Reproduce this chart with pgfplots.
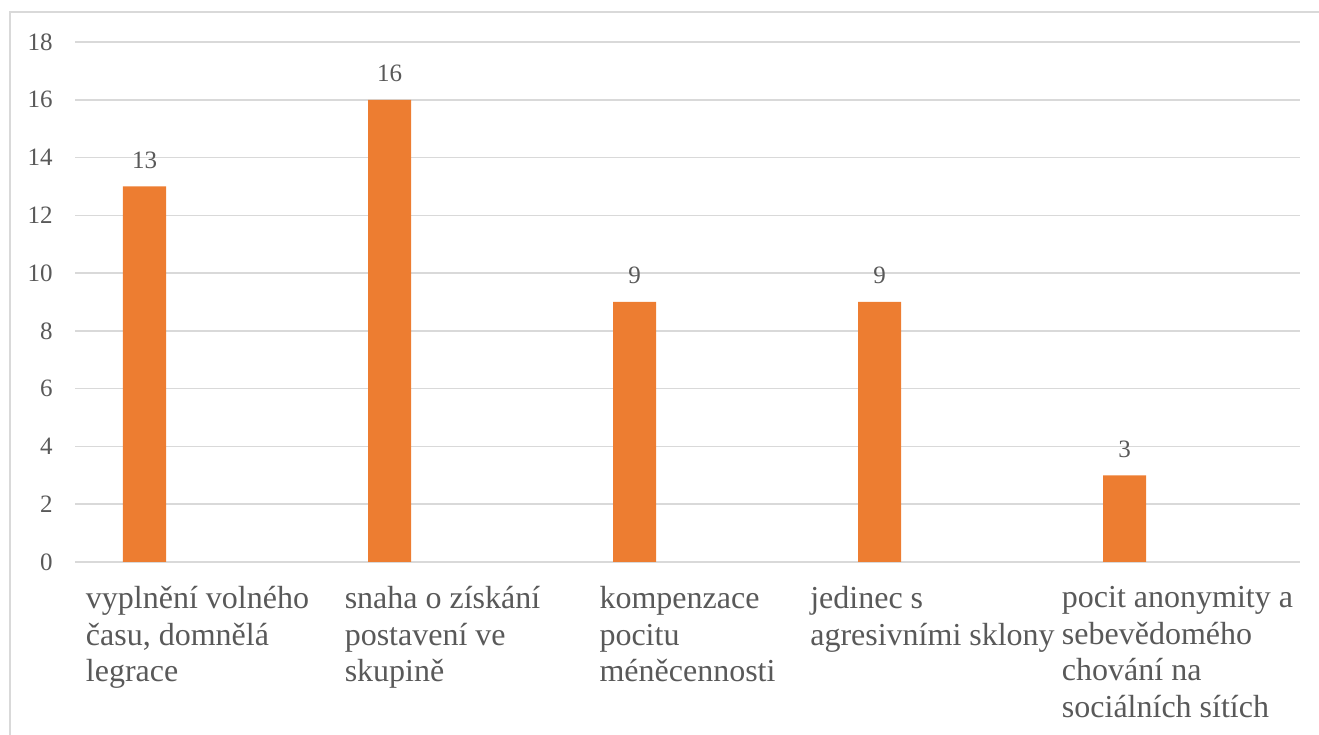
\documentclass[border=0pt]{standalone}
\usepackage{fontspec}
\setmainfont{Liberation Serif}
\newfontfamily\chartfont{Liberation Serif}
\usepackage{pgfplots}
\pgfplotsset{compat=1.18}

\definecolor{barorange}{HTML}{ED7D31}
\definecolor{gridgray}{HTML}{D9D9D9}
\definecolor{textgray}{HTML}{595959}

\begin{document}
\begin{tikzpicture}
% canvas: 1 px of the reference = 0.5bp
\useasboundingbox (0,0) rectangle (659.5bp,367.5bp);
\draw[gridgray, line width=1bp] (5bp,0) -- (5bp,361.5bp) -- (659.5bp,361.5bp);

\begin{axis}[
    at={(37.5bp,86.5bp)}, anchor=south west,
    scale only axis,
    width=612.5bp, height=260bp,
    ybar,
    bar width=21.5bp,
    bar shift=-26.5bp,
    xmin=-0.5, xmax=4.5,
    ymin=0, ymax=18,
    ytick={0,2,...,18},
    xtick={0,1,2,3,4},
    xticklabels={
        {vyplnění volného\\času, domnělá\\legrace},
        {snaha o získání\\postavení ve\\skupině},
        {kompenzace\\pocitu\\méněcennosti},
        {jedinec s\\agresivními sklony},
        {pocit anonymity a\\sebevědomého\\chování na\\sociálních sítích}},
    axis line style={draw=none},
    major tick length=0pt,
    ymajorgrids,
    grid style={gridgray, line width=0.75bp},
    /pgf/number format/assume math mode=true,
    yticklabel style={font=\chartfont\fontsize{12.5bp}{15bp}\selectfont, text=textgray,
        anchor=east, inner sep=0pt, xshift=-11bp},
    xticklabel style={font=\chartfont\fontsize{16bp}{18.25bp}\selectfont, text=textgray,
        anchor=north, align=left, inner sep=0pt, yshift=-12bp},
    nodes near coords,
    nodes near coords style={font=\chartfont\fontsize{12.5bp}{15bp}\selectfont, text=textgray,
        anchor=base, inner sep=0pt, yshift=9bp},
]
\addplot[fill=barorange, draw=none] coordinates {
    (0,13) (1,16) (2,9) (3,9) (4,3)
};
\end{axis}
\end{tikzpicture}
\end{document}
